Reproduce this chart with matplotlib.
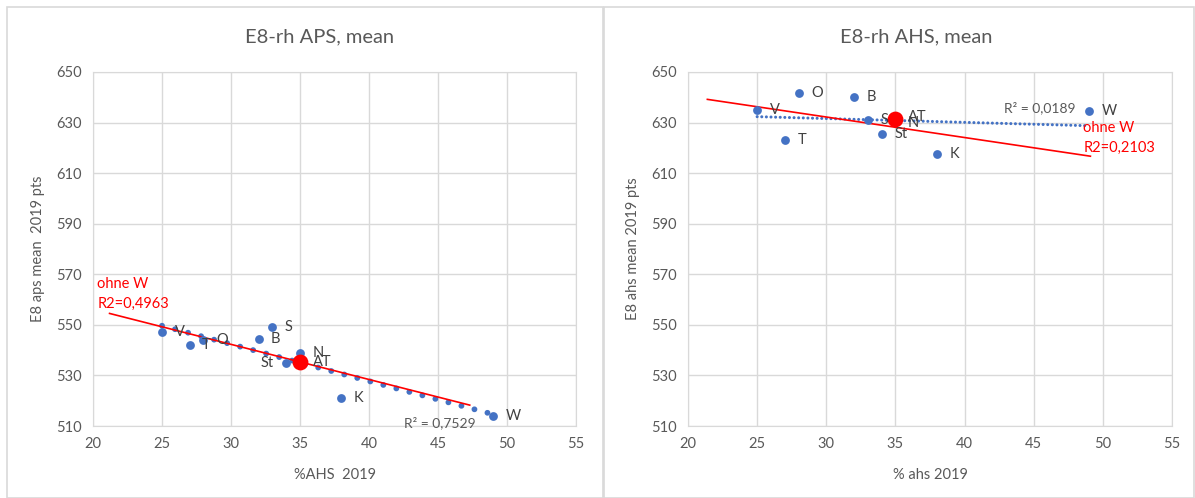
import numpy as np
import matplotlib
matplotlib.use("Agg")
from matplotlib import pyplot as plt
from matplotlib.patches import Rectangle

plt.rcParams['font.family'] = ['Lato', 'DejaVu Sans']

# data
labels = ['V', 'T', 'O', 'B', 'S', 'St', 'N', 'AT', 'K', 'W']
ahs_share = [25, 27, 28, 32, 33, 34, 35, 35, 38, 49]
aps_mean = [547, 542, 544, 544.5, 549, 535, 539, 535.5, 521, 514]
ahs_mean = [635, 623, 641.5, 640, 631, 625.5, 631, 631.5, 617.5, 634.5]

blue = '#4472C4'
grey = '#595959'
gridc = '#d9d9d9'

fig = plt.figure(figsize=(11.95, 4.98), dpi=100)

# panel frames
fig.patches.append(Rectangle((7/1195, 0), 596/1195, 491/498, transform=fig.transFigure,
                             fill=False, edgecolor=gridc, lw=1.2))
fig.patches.append(Rectangle((604/1195, 0), 590/1195, 491/498, transform=fig.transFigure,
                             fill=False, edgecolor=gridc, lw=1.2))

ax1 = fig.add_axes([93/1195, 1-426/498, 483/1195, 354/498])
ax2 = fig.add_axes([688/1195, 1-426/498, 484/1195, 354/498])


def style(ax, xlabel, ylabel):
    ax.set_xlim(20, 55)
    ax.set_ylim(510, 650)
    ax.set_xticks(np.arange(20, 56, 5))
    ax.set_yticks(np.arange(510, 651, 20))
    ax.grid(True, color=gridc, lw=1)
    ax.set_axisbelow(True)
    for s in ax.spines.values():
        s.set_color(gridc)
    ax.tick_params(length=0, labelsize=10.5, colors=grey, pad=8)
    ax.set_xlabel(xlabel, fontsize=10.5, color=grey, labelpad=12)
    ax.set_ylabel(ylabel, fontsize=10.5, color=grey, labelpad=8)


def draw(ax, yvals, dot_lw, dot_style, xr):
    x = np.array(ahs_share, dtype=float)
    y = np.array(yvals, dtype=float)
    # trendline on all points (blue dotted)
    m, b = np.polyfit(x, y, 1)
    xs = np.array([x.min(), x.max()])
    ax.plot(xs, m*xs + b, color=blue, lw=dot_lw, ls=dot_style,
            dash_capstyle='round', zorder=2)
    # trendline without W (red)
    keep = np.array([l != 'W' for l in labels])
    m2, b2 = np.polyfit(x[keep], y[keep], 1)
    xr = np.array(xr)
    ax.plot(xr, m2*xr + b2, color='red', lw=1.2, zorder=3)
    ax.scatter(x, y, s=40, color=blue, zorder=4, linewidths=0)
    i = labels.index('AT')
    ax.scatter([x[i]], [y[i]], s=130, color='red', zorder=5, linewidths=0)


style(ax1, '%AHS  2019', 'E8 aps mean  2019 pts')
style(ax2, '% ahs 2019', 'E8 ahs mean 2019 pts')

draw(ax1, aps_mean, 4.2, (0, (0.01, 2.3)), [21.2, 47.3])
draw(ax2, ahs_mean, 2.2, (0, (0.01, 1.5)), [21.4, 49.1])

# point labels
for lab, xv, yv in zip(labels, ahs_share, aps_mean):
    if lab == 'St':
        ax1.annotate(lab, (xv, yv), xytext=(-9, 0), textcoords='offset points',
                     ha='right', va='center', fontsize=10.5, color='#404040', zorder=6)
    else:
        ax1.annotate(lab, (xv, yv), xytext=(9, 0), textcoords='offset points',
                     ha='left', va='center', fontsize=10.5, color='#404040', zorder=6)

for lab, xv, yv in zip(labels, ahs_share, ahs_mean):
    dy = 0
    if lab == 'AT':
        dy = 1.5
    elif lab == 'N':
        dy = -2
    ax2.annotate(lab, (xv, yv), xytext=(9, dy), textcoords='offset points',
                 ha='left', va='center', fontsize=10.5, color='#404040', zorder=6)

# R² texts
ax1.text(45.1, 511.4, 'R² = 0,7529', ha='center', va='center', fontsize=10, color=grey, zorder=6)
ax2.text(45.45, 635.8, 'R² = 0,0189', ha='center', va='center', fontsize=10, color=grey, zorder=6)

# red annotations
ax1.text(20.3, 566.2, 'ohne W', ha='left', va='center', fontsize=10.5, color='red', zorder=6)
ax1.text(20.3, 558.3, 'R2=0,4963', ha='left', va='center', fontsize=10.5, color='red', zorder=6)
ax2.text(48.6, 627.9, 'ohne W', ha='left', va='center', fontsize=10.5, color='red', zorder=6)
ax2.text(48.6, 620.0, 'R2=0,2103', ha='left', va='center', fontsize=10.5, color='red', zorder=6)

# titles
fig.text(320/1195, 1-37/498, 'E8-rh APS, mean', ha='center', va='center', fontsize=14.5, color=grey)
fig.text(916/1195, 1-37/498, 'E8-rh AHS, mean', ha='center', va='center', fontsize=14.5, color=grey)

fig.savefig('out.png', dpi=100)
